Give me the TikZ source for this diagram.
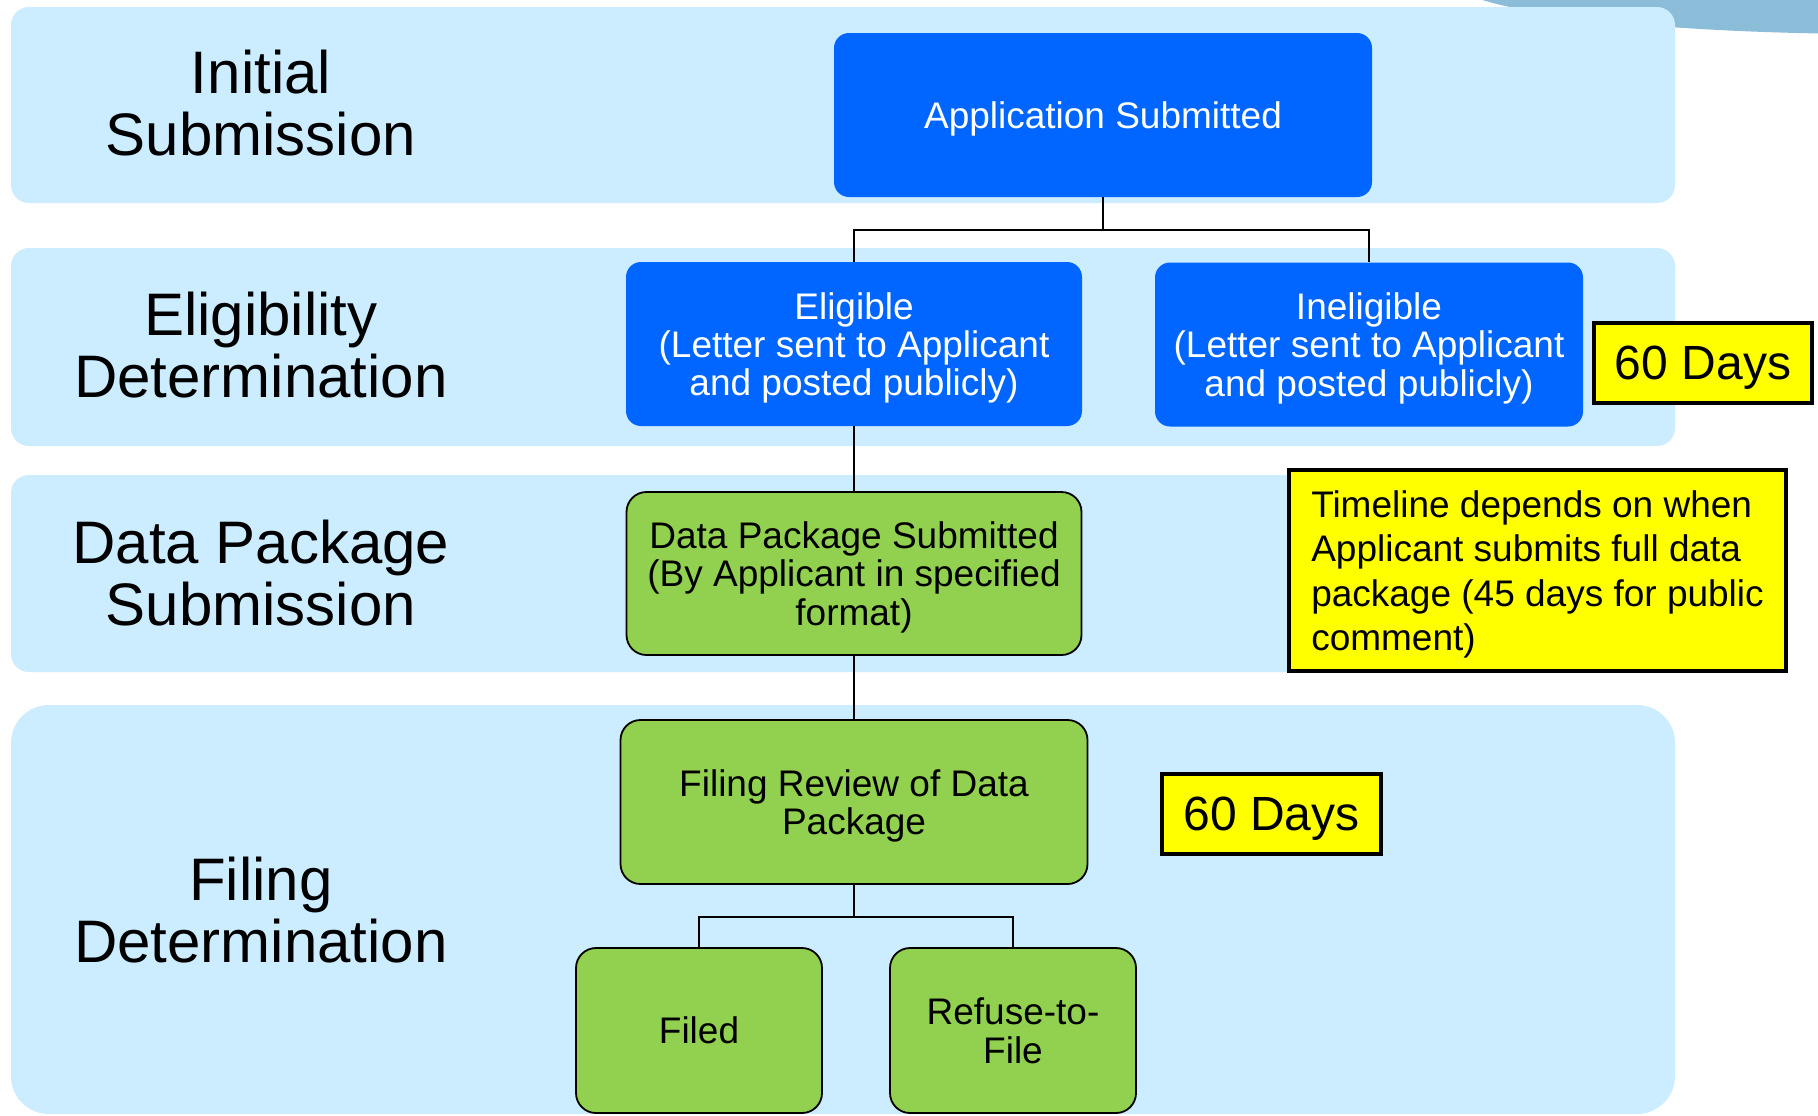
\documentclass[tikz,border=0pt]{standalone}
\usepackage{fontspec}
\setmainfont{Liberation Sans}
\definecolor{bandblue}{RGB}{204,236,255}
\definecolor{boxblue}{RGB}{0,102,255}
\definecolor{boxgreen}{RGB}{146,208,80}
\definecolor{swooshblue}{RGB}{139,189,216}
\definecolor{notey}{RGB}{255,255,0}
\tikzset{
  bandfill/.style={fill=bandblue},
  phaselabel/.style={font=\fontsize{30pt}{31pt}\selectfont, align=center, inner sep=0pt},
  bluenode/.style={fill=boxblue, text=white, rounded corners=7.5pt, inner sep=0pt, text depth=0pt,
    font=\fontsize{18.5pt}{19.2pt}\selectfont, align=center},
  greennode/.style={fill=boxgreen, draw=black, line width=0.9pt, rounded corners=10pt, inner sep=0pt, text depth=0pt,
    font=\fontsize{18.5pt}{19.2pt}\selectfont, align=center},
  yellownode/.style={fill=notey, draw=black, line width=1.7pt, inner sep=0pt, text depth=0pt},
  conn/.style={draw=black, line width=1.3pt}
}
\begin{document}
\begin{tikzpicture}[x=0.5pt,y=-0.5pt]
\useasboundingbox (0,0) rectangle (1818,1115);
\fill[white] (0,0) rectangle (1818,1115);
\begin{scope}
  \clip (0,0) rectangle (1818,1115);
  \fill[swooshblue] (1880,-21) ellipse [x radius=215pt, y radius=27.5pt];
\end{scope}
% bands
\fill[bandfill, rounded corners=9pt] (11,7) rectangle (1675,203);
\fill[bandfill, rounded corners=9pt] (11,248) rectangle (1675,446);
\fill[bandfill, rounded corners=9pt] (11,475) rectangle (1675,672);
\fill[bandfill, rounded corners=19pt] (11,705) rectangle (1675,1114);
% phase labels
\node[phaselabel] (l1) at (261,103) {Initial\\Submission};
\node[phaselabel] (l2) at (261,345) {Eligibility\\Determination};
\node[phaselabel] (l3) at (261,573) {Data Package\\Submission};
\node[phaselabel] (l4) at (261,910) {Filing\\Determination};
% boxes
\node[bluenode, minimum width=269pt, minimum height=82pt] (app) at (1103,115) {Application Submitted};
\node[bluenode, minimum width=228pt, minimum height=82pt] (elig) at (854,344) {Eligible\\(Letter sent to Applicant\\and posted publicly)};
\node[bluenode, minimum width=214pt, minimum height=82pt] (inel) at (1369,344.5) {Ineligible\\(Letter sent to Applicant\\and posted publicly)};
\node[yellownode, minimum width=109pt, minimum height=40pt, font=\fontsize{24pt}{28pt}\selectfont] (d60a) at (1703,363) {60 Days};
\node[greennode, minimum width=227.5pt, minimum height=81.5pt] (data) at (854,573.5) {Data Package Submitted\\(By Applicant in specified\\format)};
\node[yellownode, minimum width=248.5pt, minimum height=100.5pt, align=left, font=\fontsize{18.5pt}{22.3pt}\selectfont] (tl) at (1537.5,570.5) {Timeline depends on when\\Applicant submits full data\\package (45 days for public\\comment)};
\node[greennode, minimum width=233.5pt, minimum height=82pt] (frev) at (854,802) {Filing Review of Data\\Package};
\node[yellownode, minimum width=109.5pt, minimum height=40pt, font=\fontsize{24pt}{28pt}\selectfont] (d60b) at (1271.5,814) {60 Days};
\node[greennode, minimum width=123pt, minimum height=82.5pt] (filed) at (699,1030.5) {Filed};
\node[greennode, minimum width=123pt, minimum height=82.5pt] (rtf) at (1013,1030.5) {Refuse-to-\\File};
% connectors
\coordinate (j1) at (1103,230);
\coordinate (j2) at (854,917);
\draw[conn] (app.south) -- (j1);
\draw[conn] (elig.north) |- (j1) -| (inel.north);
\draw[conn] (elig.south) -- (data.north);
\draw[conn] (data.south) -- (frev.north);
\draw[conn] (frev.south) -- (j2);
\draw[conn] (filed.north) |- (j2) -| (rtf.north);
\end{tikzpicture}
\end{document}
